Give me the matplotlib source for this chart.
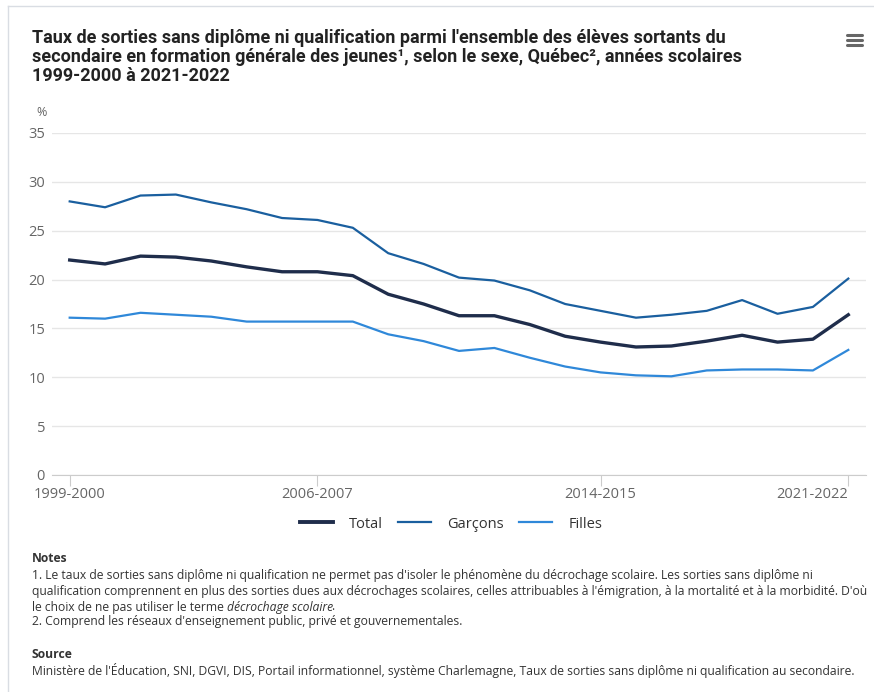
import numpy as np
import matplotlib
matplotlib.use("Agg")
import matplotlib.pyplot as plt
from matplotlib.lines import Line2D

# School years 1999-2000 .. 2021-2022
years = ["%d-%d" % (y, y + 1) for y in range(1999, 2022)]
tick_years = ["1999-2000", "2006-2007", "2014-2015", "2021-2022"]

total = [22.0, 21.6, 22.4, 22.3, 21.9, 21.3, 20.8, 20.8, 20.4, 18.5, 17.5,
         16.3, 16.3, 15.4, 14.2, 13.6, 13.1, 13.2, 13.7, 14.3, 13.6, 13.9, 16.4]
garcons = [28.0, 27.4, 28.6, 28.7, 27.9, 27.2, 26.3, 26.1, 25.3, 22.7, 21.6,
           20.2, 19.9, 18.9, 17.5, 16.8, 16.1, 16.4, 16.8, 17.9, 16.5, 17.2, 20.1]
filles = [16.1, 16.0, 16.6, 16.4, 16.2, 15.7, 15.7, 15.7, 15.7, 14.4, 13.7,
          12.7, 13.0, 12.0, 11.1, 10.5, 10.2, 10.1, 10.7, 10.8, 10.8, 10.7, 12.8]

c_total = "#1f2d4b"
c_garcons = "#1a5f9f"
c_filles = "#2f88d9"
grey = "#666666"

plt.rcParams['font.family'] = ['Open Sans', 'DejaVu Sans']

fig = plt.figure(figsize=(8.74, 6.92), dpi=100)
ax = fig.add_axes([52 / 874, 1 - 475 / 692, (866 - 52) / 874, (475 - 133) / 692])

x = np.arange(len(years))
ax.plot(x, garcons, color=c_garcons, lw=1.6, solid_joinstyle='round')
ax.plot(x, filles, color=c_filles, lw=1.6, solid_joinstyle='round')
ax.plot(x, total, color=c_total, lw=2.4, solid_joinstyle='round')

ax.set_xlim(-0.5, 22.5)
ax.set_ylim(0, 35)
ax.set_yticks(range(0, 36, 5))
ax.yaxis.grid(True, color="#e6e6e6", lw=1)
ax.set_axisbelow(True)
ax.set_xticks([years.index(t) for t in tick_years])
ax.set_xticklabels(tick_years)
for s in ["top", "right", "left"]:
    ax.spines[s].set_visible(False)
ax.spines["bottom"].set_color("#cccccc")
ax.tick_params(axis='x', length=8, color="#cccccc", labelsize=10.5, labelcolor=grey, pad=1)
ax.tick_params(axis='y', length=0, labelsize=10.5, labelcolor=grey, pad=5)
# last label is pushed inside the chart, as in the original
ax.get_xticklabels()[-1].set_horizontalalignment('right')
ax.get_xticklabels()[-1].set_x(22.65)

# legend
handles = [Line2D([], [], color=c_total, lw=2.8),
           Line2D([], [], color=c_garcons, lw=1.6),
           Line2D([], [], color=c_filles, lw=1.6)]
fig.legend(handles, ["Total", "Garçons", "Filles"], loc="center",
           bbox_to_anchor=(451 / 874, 1 - 524 / 692), ncol=3, frameon=False,
           fontsize=10.5, labelcolor="#333333", handlelength=2.3, columnspacing=1.0,
           handletextpad=1.1)

# title
fig.text(32 / 874, 1 - 29 / 692,
         "Taux de sorties sans diplôme ni qualification parmi l'ensemble des élèves sortants du\n"
         "secondaire en formation générale des jeunes¹, selon le sexe, Québec², années scolaires\n"
         "1999-2000 à 2021-2022",
         family=['Roboto', 'DejaVu Sans'], weight='bold', fontsize=13, color="#222222",
         va='top', ha='left', linespacing=1.08)
fig.text(36 / 874, 1 - 113 / 692, "%", fontsize=9, color=grey, ha='left', va='center')

# menu icon
for yy in [35, 40, 45]:
    fig.add_artist(Line2D([847 / 874, 862 / 874], [1 - yy / 692] * 2, color=grey, lw=2.2,
                          solid_capstyle='round'))

# frame border
fig.add_artist(Line2D([8 / 874, 8 / 874], [0, 1 - 6 / 692], color="#d9dde3", lw=1))
fig.add_artist(Line2D([8 / 874, 1], [1 - 6 / 692] * 2, color="#d9dde3", lw=1))

# notes
nx = 32 / 874
fs = 8.7
tc = "#333333"
fig.text(nx, 1 - 558 / 692, "Notes", fontsize=fs, weight='bold', color=tc, va='center')
lines = [
    "1. Le taux de sorties sans diplôme ni qualification ne permet pas d'isoler le phénomène du décrochage scolaire. Les sorties sans diplôme ni",
    "qualification comprennent en plus des sorties dues aux décrochages scolaires, celles attribuables à l'émigration, à la mortalité et à la morbidité. D'où",
]
ys = [575, 591]
for t, yy in zip(lines, ys):
    fig.text(nx, 1 - yy / 692, t, fontsize=fs, color=tc, va='center')
t1 = fig.text(nx, 1 - 607 / 692, "le choix de ne pas utiliser le terme ", fontsize=fs, color=tc, va='center')
r = fig.canvas.get_renderer()
bb = t1.get_window_extent(renderer=r)
t2 = fig.text(bb.x1 / fig.bbox.width, 1 - 607 / 692, "décrochage scolaire", fontsize=fs,
              color=tc, va='center', style='italic')
bb2 = t2.get_window_extent(renderer=r)
fig.text((bb2.x1 - 1.5) / fig.bbox.width, 1 - 607 / 692, ".", fontsize=fs, color=tc, va='center')
fig.text(nx, 1 - 622 / 692, "2. Comprend les réseaux d'enseignement public, privé et gouvernementales.",
         fontsize=fs, color=tc, va='center')
fig.text(nx, 1 - 654 / 692, "Source", fontsize=fs, weight='bold', color=tc, va='center')
fig.text(nx, 1 - 670 / 692,
         "Ministère de l'Éducation, SNI, DGVI, DIS, Portail informationnel, système Charlemagne, Taux de sorties sans diplôme ni qualification au secondaire.",
         fontsize=fs, color=tc, va='center')

fig.savefig("out.png", dpi=100)
